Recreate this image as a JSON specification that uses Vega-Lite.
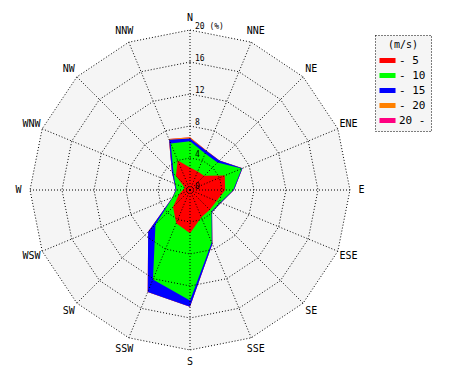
{
  "$schema": "https://vega.github.io/schema/vega-lite/v6.json",
  "width": 470,
  "height": 380,
  "padding": 0,
  "autosize": "none",
  "background": "white",
  "config": {"view": {"stroke": null}},
  "datasets": {
    "rose": [
      {"dir": "N", "i": 0, "v5": 2.8, "v10": 6.1, "v15": 6.45, "v20": 6.6, "vmax": 6.6},
      {"dir": "NNE", "i": 1, "v5": 2.5, "v10": 4.95, "v15": 5.3, "v20": 5.35, "vmax": 5.35},
      {"dir": "NE", "i": 2, "v5": 2.5, "v10": 4.85, "v15": 5.2, "v20": 5.2, "vmax": 5.2},
      {"dir": "ENE", "i": 3, "v5": 4.7, "v10": 7.0, "v15": 7.1, "v20": 7.1, "vmax": 7.1},
      {"dir": "E", "i": 4, "v5": 4.4, "v10": 5.4, "v15": 5.5, "v20": 5.5, "vmax": 5.5},
      {"dir": "ESE", "i": 5, "v5": 3.6, "v10": 4.1, "v15": 4.2, "v20": 4.2, "vmax": 4.2},
      {"dir": "SE", "i": 6, "v5": 3.5, "v10": 3.8, "v15": 3.9, "v20": 3.9, "vmax": 3.9},
      {"dir": "SSE", "i": 7, "v5": 3.7, "v10": 7.1, "v15": 7.3, "v20": 7.3, "vmax": 7.3},
      {"dir": "S", "i": 8, "v5": 5.4, "v10": 13.8, "v15": 14.6, "v20": 14.6, "vmax": 14.6},
      {"dir": "SSW", "i": 9, "v5": 4.5, "v10": 12.1, "v15": 13.8, "v20": 13.8, "vmax": 13.8},
      {"dir": "SW", "i": 10, "v5": 3.0, "v10": 6.1, "v15": 7.4, "v20": 7.4, "vmax": 7.4},
      {"dir": "WSW", "i": 11, "v5": 1.5, "v10": 2.3, "v15": 2.35, "v20": 2.35, "vmax": 2.35},
      {"dir": "W", "i": 12, "v5": 0.9, "v10": 1.7, "v15": 1.8, "v20": 1.8, "vmax": 1.8},
      {"dir": "WNW", "i": 13, "v5": 0.7, "v10": 2.0, "v15": 2.1, "v20": 2.1, "vmax": 2.1},
      {"dir": "NW", "i": 14, "v5": 2.5, "v10": 2.9, "v15": 3.2, "v20": 3.2, "vmax": 3.2},
      {"dir": "NNW", "i": 15, "v5": 4.0, "v10": 6.3, "v15": 6.8, "v20": 6.9, "vmax": 6.9}
    ],
    "rings": [
      {"ring": 0, "label": "0"},
      {"ring": 4, "label": "4"},
      {"ring": 8, "label": "8"},
      {"ring": 12, "label": "12"},
      {"ring": 16, "label": "16"},
      {"ring": 20, "label": "20 (%)"}
    ]
  },
  "encoding": {
    "x": {"field": "px", "type": "quantitative", "scale": {"domain": [-23.75, 35], "nice": false, "zero": false}, "axis": null},
    "y": {"field": "py", "type": "quantitative", "scale": {"domain": [-23.75, 23.75], "nice": false, "zero": false}, "axis": null}
  },
  "layer": [
    {
      "data": {"name": "rose"},
      "transform": [
        {"calculate": "20*sin(datum.i*PI/8)", "as": "px"},
        {"calculate": "20*cos(datum.i*PI/8)", "as": "py"}
      ],
      "mark": {"type": "line", "interpolate": "linear-closed", "filled": true, "color": "#f5f5f5", "strokeWidth": 0},
      "encoding": {"order": {"field": "i", "type": "quantitative"}}
    },
    {
      "data": {"name": "rose"},
      "transform": [
        {"fold": ["vmax", "v20", "v15", "v10", "v5"], "as": ["cls", "val"]},
        {"calculate": "datum.val*sin(datum.i*PI/8)", "as": "px"},
        {"calculate": "datum.val*cos(datum.i*PI/8)", "as": "py"}
      ],
      "mark": {"type": "line", "interpolate": "linear-closed", "filled": true, "strokeWidth": 0},
      "encoding": {
        "order": {"field": "i", "type": "quantitative"},
        "color": {
          "field": "cls", "type": "nominal",
          "scale": {"domain": ["v5", "v10", "v15", "v20", "vmax"], "range": ["#ff0000", "#00ff00", "#0000ff", "#ff8000", "#ff0080"]},
          "legend": {
            "title": "(m/s)",
            "orient": "none",
            "legendX": 375,
            "legendY": 35,
            "labelExpr": "{'v5':'- 5\u00a0\u00a0\u00a0\u00a0\u00a0','v10':'- 10\u00a0\u00a0\u00a0\u00a0','v15':'- 15\u00a0\u00a0\u00a0\u00a0','v20':'- 20\u00a0\u00a0\u00a0\u00a0','vmax':'20 -\u00a0\u00a0\u00a0\u00a0'}[datum.label]",
            "titleFont": "DejaVu Sans Mono",
            "titleFontSize": 10,
            "titleFontWeight": "normal",
            "titleColor": "black",
            "titleAnchor": "middle",
            "titlePadding": 3,
            "labelFont": "DejaVu Sans Mono",
            "labelFontSize": 11,
            "labelColor": "black",
            "labelOffset": 4,
            "symbolType": "M-1.07,-0.33H1.07V0.33H-1.07Z",
            "symbolSize": 225,
            "symbolStrokeWidth": 0,
            "symbolOpacity": 1,
            "rowPadding": 2,
            "padding": 5,
            "cornerRadius": 0,
            "strokeColor": "black",
            "fillColor": "#f5f5f5",
            "encoding": {"legend": {"strokeDash": {"value": [1, 2]}}}
          }
        }
      }
    },
    {
      "data": {"name": "rose"},
      "transform": [
        {"calculate": "[4, 8, 12, 16, 20]", "as": "rr"},
        {"flatten": ["rr"]},
        {"calculate": "datum.rr*sin(datum.i*PI/8)", "as": "px"},
        {"calculate": "datum.rr*cos(datum.i*PI/8)", "as": "py"}
      ],
      "mark": {"type": "line", "interpolate": "linear-closed", "color": "black", "strokeWidth": 1, "strokeDash": [1, 2]},
      "encoding": {
        "order": {"field": "i", "type": "quantitative"},
        "detail": {"field": "rr", "type": "nominal"}
      }
    },
    {
      "data": {"name": "rose"},
      "transform": [
        {"calculate": "0", "as": "px"},
        {"calculate": "0", "as": "py"},
        {"calculate": "20*sin(datum.i*PI/8)", "as": "ex"},
        {"calculate": "20*cos(datum.i*PI/8)", "as": "ey"}
      ],
      "mark": {"type": "rule", "color": "black", "strokeWidth": 1, "strokeDash": [1, 2]},
      "encoding": {
        "x2": {"field": "ex"},
        "y2": {"field": "ey"}
      }
    },
    {
      "data": {"name": "rose"},
      "transform": [
        {"calculate": "21.45*sin(datum.i*PI/8)", "as": "px"},
        {"calculate": "21.45*cos(datum.i*PI/8)", "as": "py"}
      ],
      "mark": {"type": "text", "font": "DejaVu Sans Mono", "fontSize": 10, "color": "black", "align": "center", "baseline": "middle"},
      "encoding": {"text": {"field": "dir"}}
    },
    {
      "data": {"name": "rings"},
      "transform": [
        {"calculate": "0", "as": "px"},
        {"calculate": "datum.ring", "as": "py"}
      ],
      "mark": {"type": "text", "font": "DejaVu Sans Mono", "fontSize": 8, "color": "black", "align": "left", "baseline": "middle", "dx": 5, "dy": -3},
      "encoding": {"text": {"field": "label"}}
    }
  ]
}
